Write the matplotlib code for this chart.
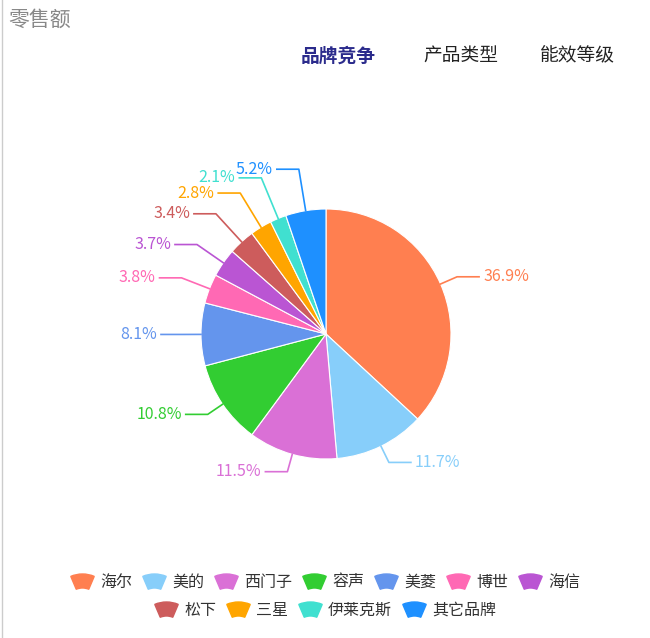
import numpy as np
import matplotlib
matplotlib.use('Agg')
import matplotlib.pyplot as plt
from matplotlib.patches import Wedge

plt.rcParams['font.family'] = ['Noto Sans CJK SC', 'DejaVu Sans']

brands = ['海尔', '美的', '西门子', '容声', '美菱', '博世', '海信', '松下', '三星', '伊莱克斯', '其它品牌']
shares = [36.9, 11.7, 11.5, 10.8, 8.1, 3.8, 3.7, 3.4, 2.8, 2.1, 5.2]
colors = ['#FF7F50', '#87CEFA', '#DA70D6', '#32CD32', '#6495ED', '#FF69B4',
          '#BA55D3', '#CD5C5C', '#FFA500', '#40E0D0', '#1E90FF']
tabs = ['品牌竞争', '产品类型', '能效等级']

W, H = 650, 638
fig = plt.figure(figsize=(6.5, 6.38), dpi=100)
ax = fig.add_axes([0, 0, 1, 1])
ax.set_xlim(0, W); ax.set_ylim(0, H)
ax.axis('off')

# left border line
ax.plot([2, 2], [0, H], color='#cccccc', lw=1)

ax.text(8, H - 20, '零售额', fontsize=15, color='#888888', va='center', ha='left')
tab_x = [338, 461, 577]
for i, (t, x) in enumerate(zip(tabs, tab_x)):
    ax.text(x, H - 56, t, fontsize=13.5, ha='center', va='center',
            color='#2b2b8c' if i == 0 else '#222222', fontweight='bold' if i == 0 else 'normal')

cx, cy, r = 326, H - 334, 125
wedges, _ = ax.pie(shares, colors=colors, startangle=90, counterclock=False,
                   center=(cx, cy), radius=r, wedgeprops=dict(linewidth=0.8, edgecolor='white'),
                   frame=True)
ax.set_xlim(0, W); ax.set_ylim(0, H); ax.axis('off')
ax.set_aspect('equal')

extra = [18, 18, 18, 18, 18, 30, 32, 38, 40, 44, 42]
for w, s, c, e in zip(wedges, shares, colors, extra):
    th = np.deg2rad((w.theta1 + w.theta2) / 2)
    p1 = (cx + r * np.cos(th), cy + r * np.sin(th))
    p2 = (cx + (r + e) * np.cos(th), cy + (r + e) * np.sin(th))
    side = 1 if np.cos(th) >= 0 else -1
    p3 = (p2[0] + side * 22, p2[1])
    ax.plot([p1[0], p2[0], p3[0]], [p1[1], p2[1], p3[1]], color=c, lw=1.2)
    ax.text(p3[0] + side * 4, p3[1], f'{s}%', color=c, fontsize=11.5,
            ha='left' if side > 0 else 'right', va='center')

# legend, two centred rows with fan icons
rows = [brands[:7], brands[7:]]
fig.canvas.draw()
rend = fig.canvas.get_renderer()
row_y = [H - 582, H - 610]
idx = 0
for row, y in zip(rows, row_y):
    items = []
    for b in row:
        t = ax.text(0, y, b, fontsize=11.5, color='#333333', va='center', ha='left')
        wpx = t.get_window_extent(rend).width
        items.append((t, wpx, colors[idx]))
        idx += 1
    icon, gap1, gap2 = 25, 5, 10
    total = sum(icon + gap1 + wpx for _, wpx, _ in items) + gap2 * (len(items) - 1)
    x = (W - total) / 2
    for t, wpx, c in items:
        ax.add_patch(Wedge((x + icon / 2, y - 22), 30, 67, 113, width=14, color=c))
        t.set_x(x + icon + gap1)
        x += icon + gap1 + wpx + gap2

fig.savefig('out.png', dpi=100)
